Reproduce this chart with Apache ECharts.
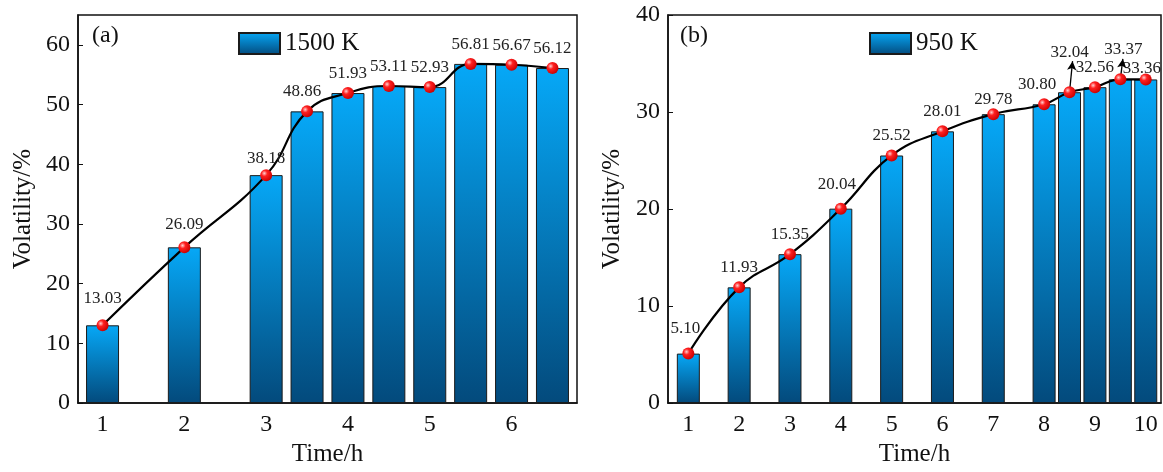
<!DOCTYPE html>
<html>
<head>
<meta charset="utf-8">
<script src="https://cdn.jsdelivr.net/npm/echarts@6/dist/echarts.min.js"></script>
<style>
  html, body { margin: 0; padding: 0; background: #fff; }
  #main { width: 1163px; height: 472px; }
</style>
</head>
<body>
<div id="main"></div>
<script>
// 数据部分
var timeA = [1, 2, 3, 3.5, 4, 4.5, 5, 5.5, 6, 6.5];
var volA = [13.03, 26.09, 38.18, 48.86, 51.93, 53.11, 52.93, 56.81, 56.67, 56.12];
var timeB = [1, 2, 3, 4, 5, 6, 7, 8, 8.5, 9, 9.5, 10];
var volB = [5.10, 11.93, 15.35, 20.04, 25.52, 28.01, 29.78, 30.80, 32.04, 32.56, 33.37, 33.36];
var ticksA = [1, 2, 3, 4, 5, 6];
var ticksB = [1, 2, 3, 4, 5, 6, 7, 8, 9, 10];
var yTicksA = [0, 10, 20, 30, 40, 50, 60];
var yTicksB = [0, 10, 20, 30, 40];
var nameA = '1500 K';
var nameB = '950 K';

var FONT = '"Liberation Serif", "Times New Roman", serif';

var barColor = {
    type: 'linear', x: 0, y: 0, x2: 0, y2: 1,
    colorStops: [
        { offset: 0, color: '#06a8f7' },
        { offset: 1, color: '#034a7c' }
    ]
};
var dotColor = {
    type: 'radial', x: 0.35, y: 0.35, r: 0.7,
    colorStops: [
        { offset: 0, color: '#ffd0d0' },
        { offset: 0.35, color: '#ff2020' },
        { offset: 1, color: '#c80000' }
    ]
};

function pairs(xs, ys) {
    var out = [];
    for (var i = 0; i < xs.length; i++) out.push([xs[i], ys[i]]);
    return out;
}

// 折线点，部分标签需要偏移
function linePoints(xs, ys, offsets) {
    var out = [];
    for (var i = 0; i < xs.length; i++) {
        var item = { value: [xs[i], ys[i]] };
        if (offsets[i]) item.label = { offset: offsets[i] };
        out.push(item);
    }
    return out;
}

function xAxisOf(idx, min, max, ticks) {
    return {
        type: 'value', gridIndex: idx, min: min, max: max,
        name: 'Time/h', nameLocation: 'middle', nameGap: 34,
        nameTextStyle: { fontFamily: FONT, fontSize: 25, color: '#111' },
        axisLine: { lineStyle: { color: '#111', width: 1.5 } },
        axisTick: { inside: true, length: 5, customValues: ticks, lineStyle: { color: '#111' } },
        axisLabel: { customValues: ticks, fontFamily: FONT, fontSize: 24, color: '#111', margin: 10 },
        splitLine: { show: false }
    };
}

function yAxisOf(idx, max, ticks, gap) {
    return {
        type: 'value', gridIndex: idx, min: 0, max: max,
        name: 'Volatility/%', nameLocation: 'middle', nameGap: gap,
        nameTextStyle: { fontFamily: FONT, fontSize: 25, color: '#111' },
        axisLine: { lineStyle: { color: '#111', width: 1.5 } },
        axisTick: { inside: true, length: 5, customValues: ticks, lineStyle: { color: '#111' } },
        axisLabel: { customValues: ticks, fontFamily: FONT, fontSize: 24, color: '#111', margin: 8 },
        splitLine: { show: false }
    };
}

function barSeries(name, idx, xs, ys, width) {
    return {
        name: name, type: 'bar', xAxisIndex: idx, yAxisIndex: idx,
        barWidth: width,
        itemStyle: { color: barColor, borderColor: '#1b1b1b', borderWidth: 1 },
        data: pairs(xs, ys),
        z: 2
    };
}

function lineSeries(idx, xs, ys, offsets, markData) {
    var s = {
        name: 'fit' + idx, type: 'line', xAxisIndex: idx, yAxisIndex: idx,
        smooth: 0.45,
        symbol: 'circle', symbolSize: 12,
        itemStyle: { color: dotColor },
        lineStyle: { color: '#000', width: 2.2 },
        label: {
            show: true, position: 'top', distance: 5,
            fontFamily: FONT, fontSize: 17, color: '#222',
            formatter: function (p) { return p.value[1].toFixed(2); }
        },
        data: linePoints(xs, ys, offsets),
        z: 5
    };
    if (markData) {
        s.markLine = {
            silent: true, symbol: ['none', 'arrow'], symbolSize: [7, 9],
            lineStyle: { color: '#000', width: 1.3, type: 'solid' },
            label: { show: false },
            data: markData
        };
    }
    return s;
}

var legendText = { fontFamily: FONT, fontSize: 25, color: '#111' };

var option = {
    animation: false,
    backgroundColor: '#fff',
    grid: [
        { left: 78, right: 586, top: 15, bottom: 56, show: true, borderColor: '#111', borderWidth: 1.5 },
        { left: 668, right: 2, top: 15, bottom: 56, show: true, borderColor: '#111', borderWidth: 1.5 }
    ],
    legend: [
        { data: [nameA], icon: 'rect', left: 233, top: 26, itemWidth: 41, itemHeight: 21, textStyle: legendText },
        { data: [nameB], icon: 'rect', left: 864, top: 26, itemWidth: 41, itemHeight: 21, textStyle: legendText }
    ],
    title: [
        { text: '(a)', left: 87, top: 19, textStyle: { fontFamily: FONT, fontSize: 24, fontWeight: 'normal', color: '#111' } },
        { text: '(b)', left: 675, top: 19, textStyle: { fontFamily: FONT, fontSize: 24, fontWeight: 'normal', color: '#111' } }
    ],
    xAxis: [xAxisOf(0, 0.7, 6.8, ticksA), xAxisOf(1, 0.6, 10.3, ticksB)],
    yAxis: [yAxisOf(0, 65, yTicksA, 42), yAxisOf(1, 40, yTicksB, 43)],
    series: [
        barSeries(nameA, 0, timeA, volA, 33),
        lineSeries(0, timeA, volA, { 0: [0, -7], 1: [0, -3], 2: [0, 3], 3: [-5, 0] }),
        barSeries(nameB, 1, timeB, volB, 23),
        lineSeries(1, timeB, volB, {
            0: [-3, -6], 3: [-4, -5], 6: [0, 5], 7: [-7, 0],
            8: [0, -20], 10: [3, -10], 11: [-4, 9]
        }, [
            [{ coord: [timeB[8], volB[8]] }, { coord: [timeB[8] + 0.06, volB[8] + 3.2] }],
            [{ coord: [timeB[10], volB[10]] }, { coord: [timeB[10] + 0.05, volB[10] + 2.1] }]
        ])
    ]
};

var myChart = echarts.init(document.getElementById('main'));
myChart.setOption(option);
</script>
</body>
</html>
